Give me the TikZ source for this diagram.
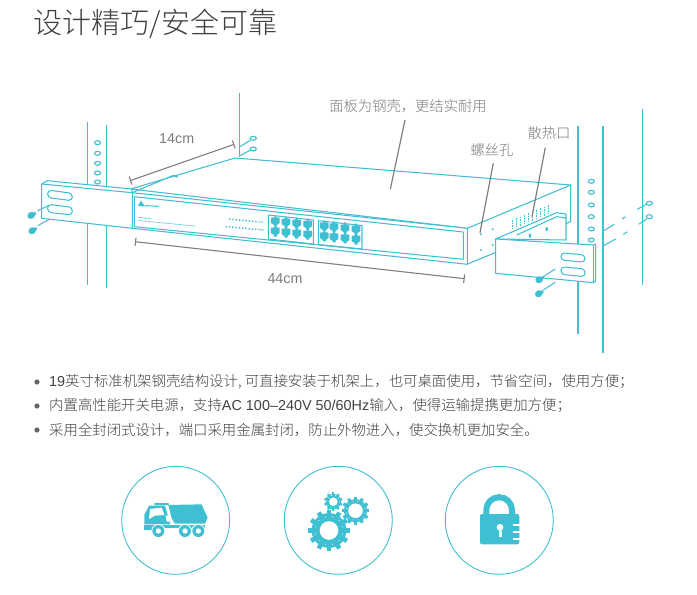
\documentclass[tikz,border=0pt]{standalone}
\usepackage{fontspec}
\setmainfont{Noto Sans CJK SC}[UprightFont=* Light]
\newfontfamily\latinpart{Liberation Sans}
\usepackage{tikz}
\definecolor{rackteal}{HTML}{3FBFD2}
\definecolor{dimgray}{HTML}{7F7F7F}
\definecolor{labelgray}{HTML}{7A7A7A}
\definecolor{bodygray}{HTML}{404040}
\tikzset{
	teal line/.style={draw=rackteal, line width=1.05pt, line join=round},
	rack line/.style={draw=rackteal, line width=1.2pt},
	panel/.style={teal line, fill=white},
	hole/.style={draw=rackteal, line width=1.1pt, fill=white},
	dim line/.style={draw=dimgray, line width=1.1pt, |-|},
	leader/.style={draw=dimgray, line width=1.2pt},
	label text/.style={text=labelgray, inner sep=0pt, font=\fontsize{14.3}{17}\selectfont},
	list text/.style={text=bodygray, inner sep=0pt, anchor=west, font=\fontsize{14.4}{17}\selectfont},
	badge/.style={draw=rackteal, line width=0.9pt, circle, minimum size=108pt, inner sep=0pt}
}
% one network socket
\newcommand{\portjack}[2]{
	\fill[rackteal] (#1-0.8,#2-6) -- (#1+0.8,#2-6) -- (#1+0.8,#2-4.2) -- (#1+4.4,#2-3.8) -- (#1+4.4,#2+1.5) -- (#1+1.5,#2+3.5) -- (#1+1.5,#2+5) -- (#1-1.5,#2+5) -- (#1-1.5,#2+3.5) -- (#1-4.4,#2+1.5) -- (#1-4.4,#2-3.8) -- (#1-0.8,#2-4.2) -- cycle;
}
% screw: head position, tip direction
\newcommand{\screwbolt}[3]{
	\draw[rackteal, line width=6.5pt, line cap=round] (#1,#2) -- ++(1,-0.6);
	\draw[rackteal, line width=2.6pt] (#1,#2) -- ++(#3,-0.55*#3);
}
% gear wheel: x, y, outer radius, hole radius, teeth
\newcommand{\gearwheel}[5]{
	\fill[rackteal] (#1,#2) circle (#3*0.84 pt);
	\foreach \t in {1,...,#5}
		\fill[rackteal, rotate around={360/#5*\t:(#1,#2)}] (#1-#3*0.11,#2-#3) rectangle (#1+#3*0.11,#2-#3*0.75);
	\fill[white] (#1,#2) circle (#4 pt);
	\foreach \t in {1,...,#5}
		\fill[white, rotate around={360/#5*\t+15:(#1,#2)}] (#1,#2-#3*0.68) circle (0.5pt);
}

\begin{document}
\begin{tikzpicture}[x=1pt, y=-1pt]
	\useasboundingbox (0,0) rectangle (697,595);
	
	\node[anchor=west, inner sep=0pt, text=bodygray, font=\fontsize{29}{33}\selectfont] (title) at (33.5,24) {设计精巧/安全可靠};
	
	% racks behind the switch
	\draw[rack line] (87.7,122) -- (87.7,285);
	\draw[rack line] (106.7,125) -- (106.7,288);
	\foreach \y in {142.7,153.3,163.3,173,182}
		\draw[hole] (97.5,\y) ellipse (3pt and 2pt);
	\draw[rack line] (239.3,93.3) -- (239.3,157);
	\draw[teal line] (240,146.7) -- (250.7,140);
	\draw[teal line] (240,155.7) -- (250.7,150);
	\draw[hole] (253.3,138.3) ellipse (3pt and 2pt);
	\draw[hole] (253.3,149) ellipse (3pt and 2pt);
	
	\draw[rack line] (578,125.7) -- (578,334);
	\draw[rack line, line width=1.4pt] (603,125.7) -- (603,352.7);
	\draw[rack line] (642.3,109) -- (642.3,285);
	\foreach \y in {181.3,192.3,205,216.7,229,240}
		\draw[hole] (591.3,\y) ellipse (3pt and 2pt);
	\draw[hole] (649.3,203.3) ellipse (3pt and 2pt);
	\draw[hole] (649.3,216.7) ellipse (3pt and 2pt);
	\draw[teal line] (603.3,231) -- (614.3,224.3);
	\draw[teal line] (622.3,219) -- (625.7,216.7);
	\draw[teal line] (637.3,209.3) -- (646.7,204);
	\draw[teal line] (603.3,245.7) -- (615.7,239);
	\draw[teal line] (623.3,234.3) -- (627.3,231.7);
	\draw[teal line] (638.7,224.3) -- (646.7,219);
	
	% switch body
	\draw[panel] (130.7,189) -- (235,158) -- (570.7,185) -- (570.7,221.7) -- (466.7,264.3) -- (467.3,228.3) -- cycle;
	\draw[panel] (132.3,192.7) -- (467.3,228.3) -- (467.3,264.3) -- (132.3,228.3) -- cycle;
	\draw[teal line] (467.3,228.3) -- (570.7,185);
	\draw[teal line] (134.3,196.7) -- (463.3,232) -- (463.3,259.3) -- (134.3,226.7) -- cycle;
	
	% logo and small print
	\fill[rackteal] (138,206) -- (141,200.5) -- (145,206.5) -- cycle;
	\draw[rackteal, line width=1pt] (145,205.5) -- (159,206.5);
	\draw[rackteal, line width=0.8pt, dash pattern=on 1pt off 0.6pt] (138.5,217.5) -- (151,218.5);
	\draw[rackteal, line width=0.7pt, dash pattern=on 1pt off 0.6pt] (138.5,220.5) -- (195,226);
	
	% LED rows
	\draw[rackteal, line width=1.5pt, dash pattern=on 1.4pt off 1.9pt] (229,219) -- (258,221.8);
	\draw[rackteal, line width=0.8pt] (258.5,221.8) -- (263,222.2);
	\draw[rackteal, line width=1.5pt, dash pattern=on 1.4pt off 1.9pt] (225.5,226.5) -- (258,229.6);
	\draw[rackteal, line width=0.8pt] (258.5,229.6) -- (264,230.1);
	
	% port groups
	\draw[teal line] (268.3,215) -- (313.3,220) -- (313.3,244) -- (268.3,239) -- cycle;
	\draw[teal line] (318.3,220.7) -- (362,225.5) -- (362,249) -- (318.3,244.5) -- cycle;
	\foreach \x in {275.3,286,296.7,307.7,324.3,334,345,356}{
		\pgfmathsetmacro{\yup}{221.5+0.1*(\x-275.3)}
		\pgfmathsetmacro{\ydn}{231.5+0.1*(\x-275.3)}
		\portjack{\x}{\yup}
		\portjack{\x}{\ydn}
	}
	
	% side vents and holes
	\foreach \i in {0,...,9}{
		\pgfmathsetmacro{\xv}{512.7+4*\i}
		\pgfmathsetmacro{\yv}{220-1.65*\i}
		\draw[rackteal, line width=1.4pt, dash pattern=on 1.5pt off 1pt] (\xv,\yv) -- (\xv,\yv+9.5);
	}
	\foreach \x/\y in {481/234.3,492.7/229.3,481/250,492.7/245}
		\fill[rackteal] (\x,\y) circle (1.1pt);
	
	% left bracket
	\draw[panel] (41.7,184) -- (47.3,180.7) -- (131.7,189) -- (132.3,192.7) -- (132.3,228.3) -- (41.7,218.3) -- cycle;
	\draw[teal line] (41.7,184) -- (132.3,192.7);
	\draw[teal line] (132.3,192.7) -- (173,175.5) -- (178,177);
	\draw[panel, rounded corners=3.6pt] (47.7,190) -- (72.3,193.3) -- (72.3,200.7) -- (47.7,197.6) -- cycle;
	\draw[panel, rounded corners=3.6pt] (47.7,204.3) -- (72.3,207.3) -- (72.3,215) -- (47.7,212.3) -- cycle;
	
	% right bracket
	\draw[panel] (495.7,239) -- (556.7,212.7) -- (566,214) -- (566,240) -- cycle;
	\draw[teal line] (516.7,235) -- (556.7,216.7) -- (566,218);
	\fill[rackteal] (530,235.7) ellipse (1.3pt and 2.2pt);
	\fill[rackteal] (546.7,229) ellipse (1.3pt and 2.2pt);
	\draw[panel] (495.7,239) -- (593.3,245) -- (595.7,244) -- (595.7,280.7) -- (593.3,282.7) -- (495.7,273.3) -- cycle;
	\draw[teal line] (593.3,245) -- (593.3,282.7);
	\draw[panel, rounded corners=3.6pt] (561,252.7) -- (585,255) -- (585,262.3) -- (561,260) -- cycle;
	\draw[panel, rounded corners=3.6pt] (561,266.7) -- (585,269) -- (585,276.7) -- (561,274.3) -- cycle;
	
	% screws
	\screwbolt{30.7}{215.7}{5}
	\draw[teal line] (37.7,210.7) -- (48.3,205.7);
	\screwbolt{31.7}{231}{5}
	\draw[teal line] (37.7,225.7) -- (50,219);
	\screwbolt{538.7}{280}{5}
	\draw[teal line] (540.7,278.3) -- (555.3,269);
	\screwbolt{538.3}{294}{5}
	\draw[teal line] (543.3,290) -- (555.3,282.3);
	
	% dimensions and leaders
	\coordinate (depthL) at (130,180.7);
	\coordinate (depthR) at (234.3,144.3);
	\coordinate (widthL) at (135,241.7);
	\coordinate (widthR) at (464.7,278.7);
	\draw[dim line] (depthL) -- (depthR);
	\draw[dim line] (widthL) -- (widthR);
	\node[label text] (depthtext) at (176.7,139) {\latinpart 14cm};
	\node[label text] (widthtext) at (285,279) {\latinpart 44cm};
	
	\node[label text] (paneltext) at (408,106) {面板为钢壳，更结实耐用};
	\node[label text] (screwtext) at (492,150) {螺丝孔};
	\node[label text] (venttext) at (549,133) {散热口};
	\coordinate (panelA) at (405,120);
	\coordinate (panelB) at (390.3,189.3);
	\coordinate (screwA) at (493.3,163.3);
	\coordinate (screwB) at (480,232.7);
	\coordinate (ventA) at (545.3,147.7);
	\coordinate (ventB) at (532,216.7);
	\draw[leader] (panelA) -- (panelB);
	\draw[leader] (screwA) -- (screwB);
	\draw[leader] (ventA) -- (ventB);
	
	% feature list
	\foreach \y in {382,406,430}
		\fill[bodygray!80] (37,\y) circle (2.6pt);
	\node[list text] (lineone) at (49,382) {{\latinpart 19}英寸标准机架钢壳结构设计, 可直接安装于机架上，也可桌面使用，节省空间，使用方便；};
	\node[list text] (linetwo) at (49,406) {内置高性能开关电源，支持{\latinpart AC 100–240V 50/60Hz}输入，使得运输提携更加方便；};
	\node[list text] (linethree) at (49,430) {采用全封闭式设计，端口采用金属封闭，防止外物进入，使交换机更加安全。};
	
	% badges
	\node[badge] (truckbadge) at (175.7,520.3) {};
	\node[badge] (gearbadge) at (338.3,520.3) {};
	\node[badge] (lockbadge) at (499.3,520.3) {};
	
	% truck
	\begin{scope}[shift={(135,495)}, scale=0.3333]
		\fill[rackteal] (100,30) -- (200,28) -- (205,40) -- (218,68) -- (210,86) -- (120,86) -- (110,70) -- cycle;
		\fill[rackteal] (58,24) -- (100,24) -- (103,30) -- (58,30) -- cycle;
		\fill[rackteal] (42,32) -- (90,32) -- (106,88) -- (28,88) -- (28,60) -- cycle;
		\fill[white] (45,42) -- (80,38) -- (88,60) -- (60,62) -- (42,72) -- cycle;
		\fill[white] (92,62) -- (100,62) -- (104,80) -- (95,80) -- cycle;
		\fill[rackteal] (28,91) rectangle (210,100);
		\fill[rackteal] (28,100) rectangle (50,106);
		\foreach \x in {70,150,190}{
			\fill[white] (\x,108) circle (21pt);
			\fill[rackteal] (\x,108) circle (18pt);
			\fill[white] (\x,108) circle (8pt);
		}
	\end{scope}
	
	% gears
	\gearwheel{329}{530.5}{20.7}{9.3}{12}
	\gearwheel{355.5}{510.7}{13.9}{7.3}{12}
	\gearwheel{333.3}{501.7}{9.3}{4.3}{10}
	
	% lock
	\draw[rackteal, line width=6pt] (486.3,516) -- (486.3,510) arc[start angle=180, end angle=0, radius=12.85pt] -- (512,516);
	\fill[rackteal, rounded corners=2pt] (480,514) rectangle (519.3,544.3);
	\fill[white] (500,527.3) circle (3.4pt);
	\fill[white] (498.5,528) rectangle (501.5,536.5);
	\foreach \y in {524,531,538}
		\fill[white] (513,\y) rectangle (520,\y+1.6);
\end{tikzpicture}
\end{document}
